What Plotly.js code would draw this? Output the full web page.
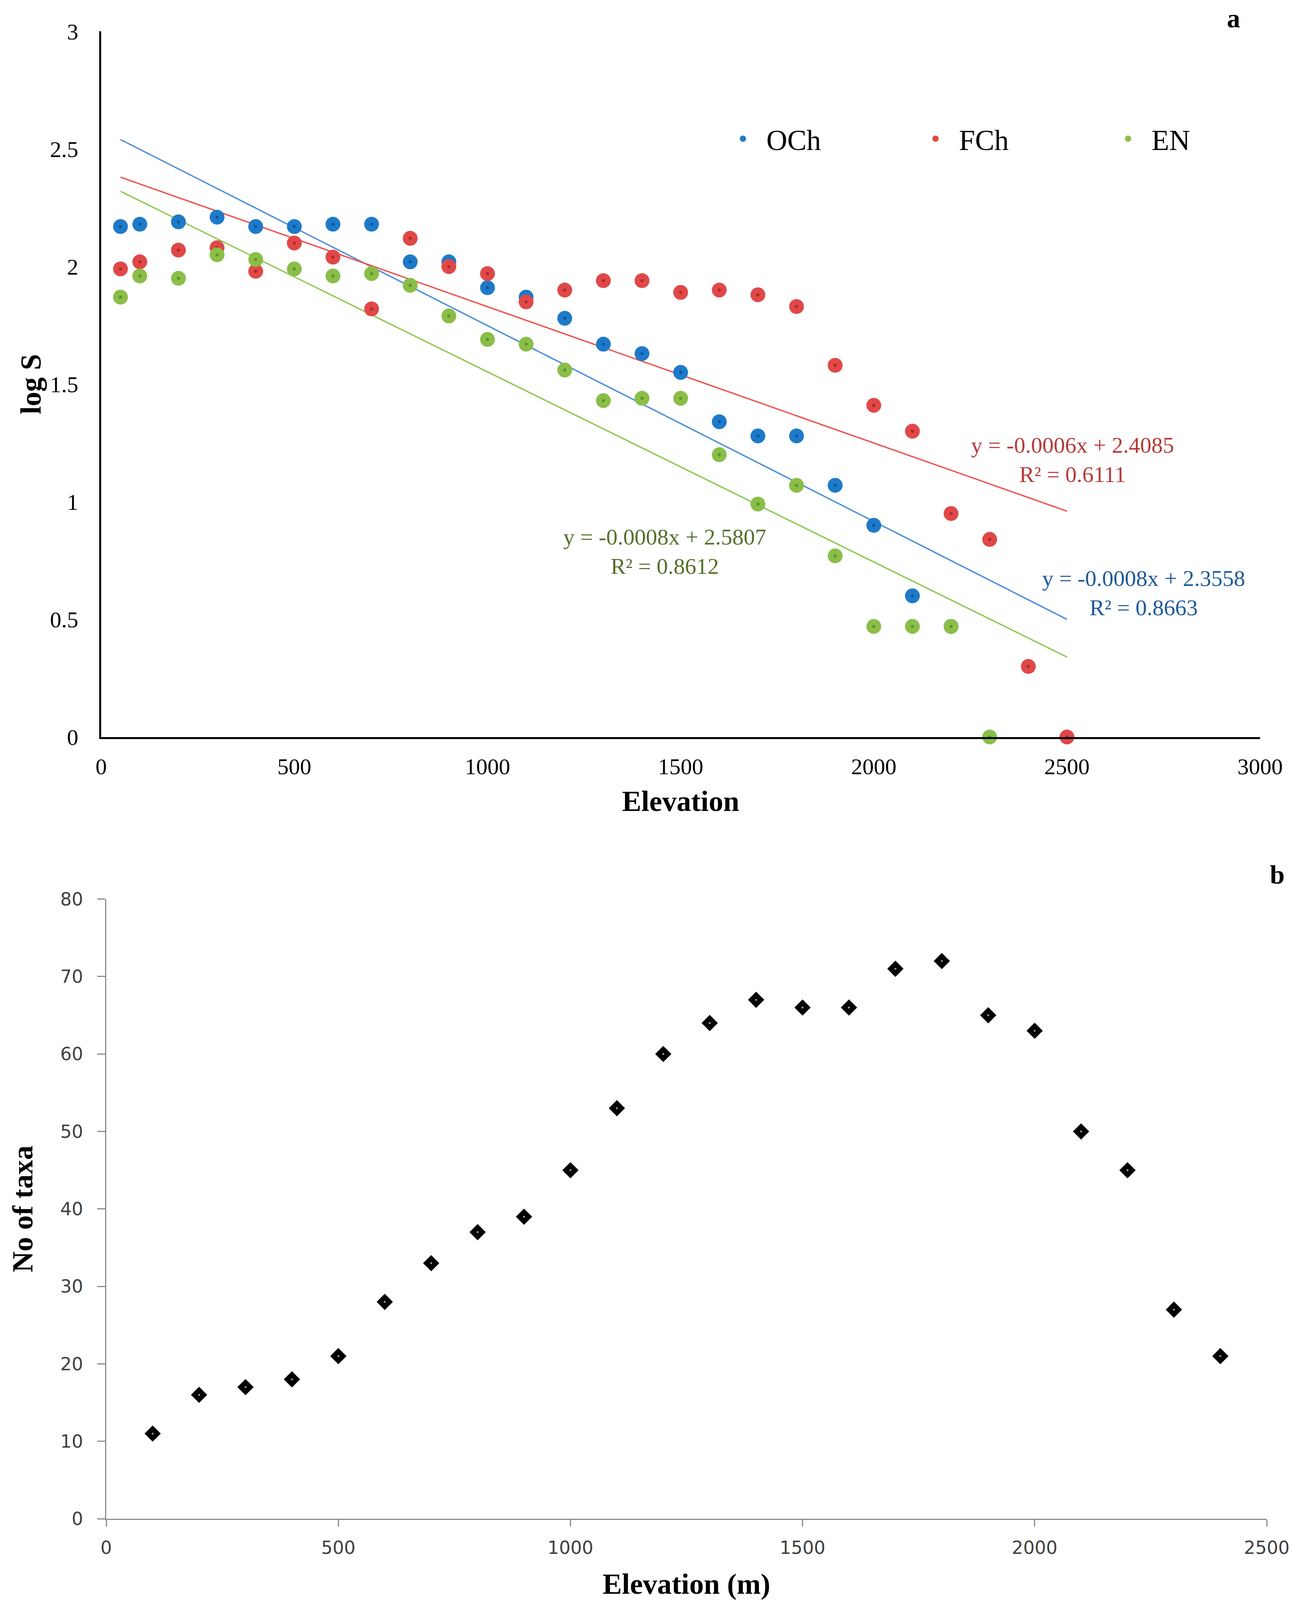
<!DOCTYPE html>
<html><head><meta charset="utf-8">
<script src="https://cdn.plot.ly/plotly-3.0.1.min.js"></script>
<style>html,body{margin:0;padding:0;background:#fff;overflow:hidden}</style>
</head><body><div id="chart"></div>
<script>
// ---- Panel a: log S vs elevation ----
const elevOCh = [50,100,200,300,400,500,600,700,800,900,1000,1100,1200,1300,1400,1500,1600,1700,1800,1900,2000,2100,2200];
const logOCh  = [2.17,2.18,2.19,2.21,2.17,2.17,2.18,2.18,2.02,2.02,1.91,1.87,1.78,1.67,1.63,1.55,1.34,1.28,1.28,1.07,0.90,0.60,0.47];
const elevFCh = [50,100,200,300,400,500,600,700,800,900,1000,1100,1200,1300,1400,1500,1600,1700,1800,1900,2000,2100,2200,2300,2400,2500];
const logFCh  = [1.99,2.02,2.07,2.08,1.98,2.10,2.04,1.82,2.12,2.00,1.97,1.85,1.90,1.94,1.94,1.89,1.90,1.88,1.83,1.58,1.41,1.30,0.95,0.84,0.30,0.00];
const elevEN  = [50,100,200,300,400,500,600,700,800,900,1000,1100,1200,1300,1400,1500,1600,1700,1800,1900,2000,2100,2200,2300];
const logEN   = [1.87,1.96,1.95,2.05,2.03,1.99,1.96,1.97,1.92,1.79,1.69,1.67,1.56,1.43,1.44,1.44,1.20,0.99,1.07,0.77,0.47,0.47,0.47,0.00];
// trendline ends (as drawn in the figure)
const trendX     = [50, 2500];
const trendOCh   = [2.54, 0.50];
const trendFCh   = [2.38, 0.96];
const trendEN    = [2.32, 0.34];
const seriesNames = ['OCh','FCh','EN'];
const eqTexts = ['y = -0.0008x + 2.3558<br>R² = 0.8663','y = -0.0006x + 2.4085<br>R² = 0.6111','y = -0.0008x + 2.5807<br>R² = 0.8612'];

// ---- Panel b: number of taxa vs elevation ----
const elevTaxa = [100,200,300,400,500,600,700,800,900,1000,1100,1200,1300,1400,1500,1600,1700,1800,1900,2000,2100,2200,2300,2400];
const noTaxa   = [11,16,17,18,21,28,33,37,39,45,53,60,64,67,66,66,71,72,65,63,50,45,27,21];

const SERIF = 'Liberation Serif, Times New Roman, serif';
const cols   = ['#1E7AC8','#E04848','#8ABE48'];
const dots   = ['#0A5A9E','#B02828','#5E9428'];
const lcols  = ['#4A8FD8','#F05050','#8CC850'];
const tcols  = ['#1F5A9A','#B83A3A','#56702C'];

// reference frame is 3323 x 4748; the page fits whatever viewport it is given
const RW = 3323, RH = 4748;
const W = window.innerWidth || RW, H = window.innerHeight || RH;
const kx = W / RW, ky = H / RH, kf = Math.min(1, kx);
const px = v => v / RW, py = v => 1 - v / RH;
const fs = s => Math.round(s * kf);
document.getElementById('chart').style.width = W + 'px';
document.getElementById('chart').style.height = H + 'px';

const xs = [elevOCh, elevFCh, elevEN];
const ys = [logOCh, logFCh, logEN];
const trends = [trendOCh, trendFCh, trendEN];

const data = [];
for (let i = 0; i < 3; i++) {
  data.push({x: trendX, y: trends[i], type:'scatter', mode:'lines', xaxis:'x', yaxis:'y',
    line:{color:lcols[i], width:3.5}, showlegend:false, hoverinfo:'skip'});
}
for (let i = 0; i < 3; i++) {
  data.push({x: xs[i], y: ys[i], type:'scatter', mode:'markers', name: seriesNames[i], xaxis:'x', yaxis:'y',
    marker:{color:cols[i], size:fs(38), line:{width:0}}, cliponaxis:false});
  data.push({x: xs[i], y: ys[i], type:'scatter', mode:'markers', xaxis:'x', yaxis:'y', showlegend:false, hoverinfo:'skip',
    marker:{color:dots[i], size:8}, cliponaxis:false});
}
data.push({x: elevTaxa, y: noTaxa, type:'scatter', mode:'markers', xaxis:'x2', yaxis:'y2', showlegend:false,
  marker:{symbol:'diamond', color:'#000', size:fs(32)}, cliponaxis:false});
data.push({x: elevTaxa, y: noTaxa, type:'scatter', mode:'markers', xaxis:'x2', yaxis:'y2', showlegend:false, hoverinfo:'skip',
  marker:{color:'#9a9a9a', size:5}, cliponaxis:false});

const layout = {
  width: W, height: H,
  margin:{l:0,r:0,t:0,b:0},
  paper_bgcolor:'#fff', plot_bgcolor:'#fff',
  font:{family:SERIF, color:'#000'},
  showlegend:true,
  legend:{orientation:'h', x:px(1842), xanchor:'left', y:py(412), yanchor:'middle',
    font:{family:SERIF, size:fs(74), color:'#000'}, itemwidth:110, entrywidth:368, entrywidthmode:'pixels',
    bgcolor:'rgba(0,0,0,0)', borderwidth:0},
  xaxis:{domain:[px(259), px(3226)], range:[0,3000], tick0:0, dtick:500, anchor:'y',
    showgrid:false, zeroline:false, showline:true, linecolor:'#000', linewidth:5, ticks:'',
    tickfont:{family:SERIF, size:fs(58), color:'#000'}, ticklabelstandoff:Math.round(24*ky),
    title:{text:'<b>Elevation</b>', font:{family:SERIF, size:fs(74), color:'#000'}, standoff:Math.round(36*ky)}},
  yaxis:{domain:[py(2187), py(93)], range:[0,3], tick0:0, dtick:0.5, anchor:'x',
    showgrid:false, zeroline:false, showline:true, linecolor:'#000', linewidth:5, ticks:'',
    tickfont:{family:SERIF, size:fs(58), color:'#000'}, ticklabelstandoff:Math.round(42*kx),
    title:{text:'<b>log S</b>', font:{family:SERIF, size:fs(74), color:'#000'}, standoff:0}},
  xaxis2:{domain:[px(272), px(3243)], range:[0,2500], tick0:0, dtick:500, anchor:'y2',
    showgrid:false, zeroline:false, showline:true, linecolor:'#8c8c8c', linewidth:3,
    ticks:'outside', ticklen:Math.round(20*ky), tickwidth:3, tickcolor:'#8c8c8c',
    tickfont:{family:'DejaVu Sans', size:fs(46), color:'#404040'}, ticklabelstandoff:Math.round(17*ky),
    title:{text:'<b>Elevation (m)</b>', font:{family:SERIF, size:fs(74), color:'#000'}, standoff:Math.round(52*ky)}},
  yaxis2:{domain:[py(4507), py(2668)], range:[0,80], tick0:0, dtick:10, anchor:'x2',
    showgrid:false, zeroline:false, showline:true, linecolor:'#8c8c8c', linewidth:3,
    ticks:'outside', ticklen:20, tickwidth:3, tickcolor:'#8c8c8c',
    tickfont:{family:'DejaVu Sans', size:fs(46), color:'#404040'}, ticklabelstandoff:Math.round(27*kx),
    title:{text:'<b>No of taxa</b>', font:{family:SERIF, size:fs(74), color:'#000'}, standoff:Math.round(47*kx)}},
  annotations:[
    {xref:'paper', yref:'paper', x:px(3158), y:py(55), xanchor:'center', yanchor:'middle', text:'<b>a</b>', showarrow:false, font:{family:SERIF, size:fs(68)}},
    {xref:'paper', yref:'paper', x:px(3270), y:py(2595), xanchor:'center', yanchor:'middle', text:'<b>b</b>', showarrow:false, font:{family:SERIF, size:fs(68)}},
    {xref:'paper', yref:'paper', x:px(2928), y:py(1760), xanchor:'center', yanchor:'middle', text:eqTexts[0], showarrow:false, align:'center', font:{family:SERIF, size:fs(58), color:tcols[0]}},
    {xref:'paper', yref:'paper', x:px(2746), y:py(1364), xanchor:'center', yanchor:'middle', text:eqTexts[1], showarrow:false, align:'center', font:{family:SERIF, size:fs(58), color:tcols[1]}},
    {xref:'paper', yref:'paper', x:px(1702), y:py(1637), xanchor:'center', yanchor:'middle', text:eqTexts[2], showarrow:false, align:'center', font:{family:SERIF, size:fs(58), color:tcols[2]}}
  ]
};

Plotly.newPlot('chart', data, layout, {staticPlot:true, displayModeBar:false});
</script>
</body></html>
